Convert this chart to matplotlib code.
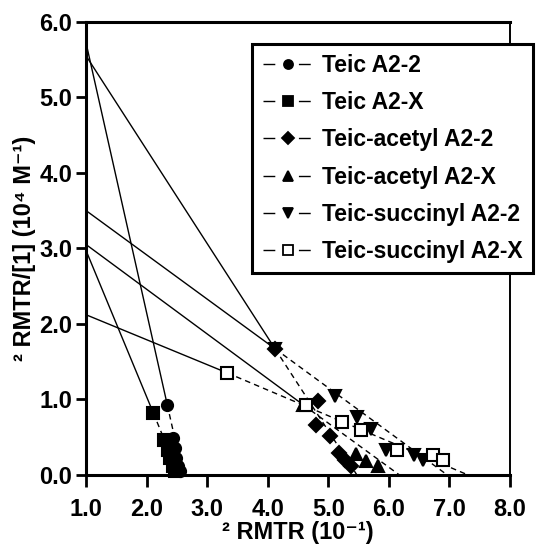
import matplotlib
matplotlib.use('Agg')
import matplotlib.pyplot as plt
from matplotlib.lines import Line2D
from matplotlib.ticker import FormatStrFormatter

plt.rcParams['font.family'] = ['Liberation Sans', 'DejaVu Sans']
plt.rcParams['font.weight'] = 'bold'

# series (x in 10^-1, y in 10^4 M^-1)
labels = ['Teic A2-2', 'Teic A2-X', 'Teic-acetyl A2-2', 'Teic-acetyl A2-X',
          'Teic-succinyl A2-2', 'Teic-succinyl A2-X']

teic22_x = [2.34, 2.44, 2.46, 2.49, 2.52, 2.55]
teic22_y = [0.93, 0.49, 0.35, 0.22, 0.12, 0.05]
teic2x_x = [2.11, 2.29, 2.35, 2.39, 2.43, 2.47]
teic2x_y = [0.82, 0.46, 0.33, 0.22, 0.12, 0.05]
acet22_x = [4.12, 4.83, 4.80, 5.03, 5.17, 5.28, 5.37]
acet22_y = [1.67, 0.98, 0.66, 0.52, 0.29, 0.20, 0.12]
acet2x_x = [4.58, 5.45, 5.62, 5.82]
acet2x_y = [0.93, 0.27, 0.18, 0.12]
succ22_x = [4.12, 5.11, 5.48, 5.71, 5.96, 6.42, 6.56]
succ22_y = [1.67, 1.05, 0.77, 0.61, 0.33, 0.26, 0.19]
succ2x_x = [3.33, 4.63, 5.23, 5.54, 6.13, 6.73, 6.90]
succ2x_y = [1.35, 0.93, 0.70, 0.59, 0.33, 0.26, 0.19]

# fitted lines: value at x = 1.0 and x-intercept
fit_y0 = [5.72, 2.97, 5.55, 3.05, 3.50, 2.12]
fit_xint = [2.60, 2.53, 5.47, 6.17, 6.96, 7.30]

xs = [teic22_x, teic2x_x, acet22_x, acet2x_x, succ22_x, succ2x_x]
ys = [teic22_y, teic2x_y, acet22_y, acet2x_y, succ22_y, succ2x_y]
markers = ['o', 's', 'D', '^', 'v', 's']
msizes = [8, 8.5, 7, 8, 8, 8.5]
faces = ['black', 'black', 'black', 'black', 'black', 'white']
dash = (0, (4, 3))

fig = plt.figure(figsize=(5.38, 5.47), dpi=100)
ax = fig.add_axes([0.160, 0.132, 0.788, 0.828])

for i in range(6):
    x, y = xs[i], ys[i]
    # solid part from the y axis to the first point
    ax.plot([1.0, x[0]], [fit_y0[i], y[0]], color='black', lw=1.0, zorder=2)
    # dashed continuation to the x axis
    ax.plot([x[0], fit_xint[i]], [y[0], 0.0], color='black', lw=1.0,
            ls=dash, zorder=2)
    ax.plot(x, y, ls='none', marker=markers[i], ms=msizes[i],
            mfc=faces[i], mec='black', mew=1.5, zorder=3, clip_on=False)

ax.set_xlim(1.0, 8.0)
ax.set_ylim(0.0, 6.0)
ax.set_xticks([1, 2, 3, 4, 5, 6, 7, 8])
ax.set_yticks([0, 1, 2, 3, 4, 5, 6])
ax.xaxis.set_major_formatter(FormatStrFormatter('%.1f'))
ax.yaxis.set_major_formatter(FormatStrFormatter('%.1f'))
ax.tick_params(direction='out', width=2, labelsize=17)
ax.tick_params(axis='x', length=8.5, pad=8)
ax.tick_params(axis='y', length=7, pad=3)
for lab in ax.get_xticklabels() + ax.get_yticklabels():
    lab.set_fontweight('bold')

for side in ['left', 'bottom', 'top']:
    ax.spines[side].set_linewidth(2.2)
ax.spines['right'].set_linewidth(1.4)

ax.set_xlabel('² RMTR (10⁻¹)', fontsize=17, fontweight='bold', labelpad=0)
ax.set_ylabel('² RMTR/[1] (10⁴ M⁻¹)', fontsize=17, fontweight='bold',
              labelpad=2)

handles = [Line2D([], [], color='black', lw=1.0, ls=(0, (8.5, 17)),
                  marker=markers[i], ms=6.5, mfc=faces[i], mec='black',
                  mew=1.3)
           for i in range(6)]
leg = ax.legend(handles, labels, loc='upper left', bbox_to_anchor=(0.392, 0.952),
                prop={'size': 16.5, 'weight': 'bold'}, handlelength=2.2,
                handletextpad=0.4, labelspacing=0.62, borderpad=0.45,
                borderaxespad=0, fancybox=False, framealpha=1,
                edgecolor='black')
leg.get_frame().set_linewidth(2.2)

fig.savefig('out.png', dpi=100)
